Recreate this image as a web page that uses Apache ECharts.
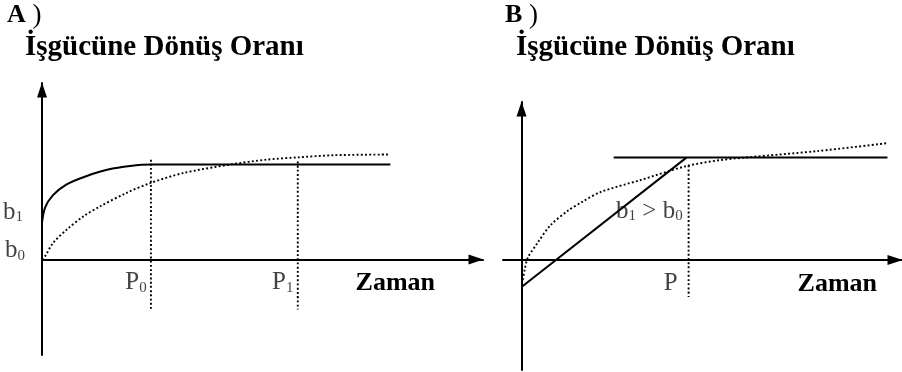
<!DOCTYPE html>
<html>
<head>
<meta charset="utf-8">
<script src="https://cdn.jsdelivr.net/npm/echarts@6/dist/echarts.min.js"></script>
<style>
  html, body { margin: 0; padding: 0; background: #fff; }
  #chart { width: 902px; height: 372px; }
</style>
</head>
<body>
<div id="chart"></div>
<script>
// panel A: solid path jumps to b1 then flattens after P0, dotted path starts at b0
const aSolidX = [0, 0.07, 0.25, 0.55, 1.0, 1.5, 2.0, 2.47, 3.5, 7.9]
const aSolidY = [2.1, 2.95, 3.65, 4.25, 4.72, 5.1, 5.3, 5.38, 5.38, 5.38]
const aDotX = [0, 0.07, 0.25, 0.56, 0.94, 1.32, 1.92, 2.46, 3.2, 4.26, 5.09, 5.81, 6.6, 7.85]
const aDotY = [0, 0.19, 0.94, 1.7, 2.45, 3.02, 3.78, 4.34, 4.9, 5.38, 5.66, 5.79, 5.91, 5.95]
const aMarkX = [2.47, 5.8]
const aMarkTop = [5.65, 5.55]
const aMarkNames = ['P0', 'P1']
const markBottomA = -2.83

// panel B: straight ramp up to P, then flat; dotted curve
const bRampX = [0, 3.74]
const bRampY = [-1.53, 5.8]
const bFlatX = [2.09, 8.3]
const bFlatY = [5.8, 5.8]
const bDotX = [0.01, 0.07, 0.14, 0.36, 0.66, 1.04, 1.41, 1.79, 2.7, 3.74, 4.51, 5.19, 6.71, 8.3]
const bDotY = [-1.36, -0.57, 0.11, 0.96, 1.98, 2.77, 3.34, 3.85, 4.53, 5.32, 5.66, 5.83, 6.17, 6.62]
const bMarkX = 3.79
const bMarkTop = 5.35
const markBottomB = -2.1

const font = '"Liberation Serif", "Times New Roman", serif'
const ink = '#000'
const dotted = { color: ink, width: 1.9, type: [1.9, 2.3], cap: 'butt' }
const solid = { color: ink, width: 2 }

const rich = {
  m: { fontFamily: font, fontSize: 25, color: '#111', verticalAlign: 'bottom' },
  s: { fontFamily: font, fontSize: 15, color: '#111', verticalAlign: 'bottom' }
}

function pairs(xs, ys) {
  return xs.map((x, i) => [x, ys[i]])
}

function lineSeries(idx, data, style) {
  return {
    type: 'line', xAxisIndex: idx, yAxisIndex: idx, data: data,
    showSymbol: false, silent: true, smooth: 0.3,
    lineStyle: style, animation: false
  }
}

function sub(base, s) {
  return '{m|' + base + '}{s|' + s + '}'
}

function xAxis(idx, min, max, gap) {
  return {
    type: 'value', gridIndex: idx, min: min, max: max,
    splitLine: { show: false }, axisTick: { show: false }, axisLabel: { show: false },
    axisLine: {
      onZero: true, symbol: ['none', 'triangle'], symbolSize: [10, 15], symbolOffset: [0, -7],
      lineStyle: { color: ink, width: 2 }
    },
    name: 'Zaman', nameLocation: 'end', nameGap: gap,
    nameTextStyle: {
      fontFamily: font, fontWeight: 'bold', fontSize: 26, color: ink,
      align: 'right', verticalAlign: 'top', padding: [11, 0, 0, 0]
    }
  }
}

function yAxis(idx, min, max) {
  return {
    type: 'value', gridIndex: idx, min: min, max: max,
    splitLine: { show: false }, axisTick: { show: false }, axisLabel: { show: false },
    axisLine: {
      onZero: true, symbol: ['none', 'triangle'], symbolSize: [10, 15], symbolOffset: [0, -7],
      lineStyle: { color: ink, width: 2 }
    }
  }
}

const chart = echarts.init(document.getElementById('chart'))

const headRich = {
  b: { fontFamily: font, fontWeight: 'bold', fontSize: 26, color: ink },
  n: { fontFamily: font, fontWeight: 'normal', fontSize: 27, color: ink }
}
const headStyle = { fontFamily: font, fontWeight: 'bold', fontSize: 29, color: ink }

const series = [
  lineSeries(0, pairs(aSolidX, aSolidY), solid),
  lineSeries(0, pairs(aDotX, aDotY), dotted),
  ...aMarkX.map((x, i) => lineSeries(0, [[x, aMarkTop[i]], [x, markBottomA]], dotted)),
  lineSeries(1, pairs(bRampX, bRampY), solid),
  lineSeries(1, pairs(bFlatX, bFlatY), solid),
  lineSeries(1, pairs(bDotX, bDotY), dotted),
  lineSeries(1, [[bMarkX, bMarkTop], [bMarkX, markBottomB]], dotted),
  {
    type: 'scatter', xAxisIndex: 0, yAxisIndex: 0, symbolSize: 0, silent: true, animation: false,
    label: { show: true, rich: rich },
    data: [
      { value: [0, aSolidY[0]], label: { formatter: sub('b', '1'), position: 'left', distance: 19, offset: [0, -10] } },
      { value: [0, 0], label: { formatter: sub('b', '0'), position: 'left', distance: 17, offset: [0, -9] } },
      ...aMarkX.map((x, i) => ({
        value: [x, 0],
        label: { formatter: sub(aMarkNames[i][0], aMarkNames[i][1]), position: 'inside', offset: [-15, 23] }
      }))
    ]
  },
  {
    type: 'scatter', xAxisIndex: 1, yAxisIndex: 1, symbolSize: 0, silent: true, animation: false,
    label: { show: true, rich: rich },
    data: [
      { value: [2.9, 2.77], label: { formatter: sub('b', '1') + '{m| > }' + sub('b', '0'), position: 'inside' } },
      { value: [bMarkX, 0], label: { formatter: '{m|P}', position: 'inside', offset: [-18, 23] } }
    ]
  }
]

chart.setOption({
  backgroundColor: '#fff',
  animation: false,
  title: [
    { text: '{b|A}{n| )}', left: 7, top: 2, padding: 0, textStyle: { rich: headRich } },
    { text: 'İşgücüne Dönüş Oranı', left: 25, top: 33, padding: 0, textStyle: headStyle },
    { text: '{b|B}{n| )}', left: 505, top: 2, padding: 0, textStyle: { rich: headRich } },
    { text: 'İşgücüne Dönüş Oranı', left: 516, top: 33, padding: 0, textStyle: headStyle }
  ],
  grid: [
    { left: 42, top: 83, width: 441, height: 272, outerBoundsMode: 'none' },
    { left: 503, top: 102, width: 399, height: 268, outerBoundsMode: 'none' }
  ],
  xAxis: [xAxis(0, 0, 10, -48), xAxis(1, -0.42, 8.63, -25)],
  yAxis: [yAxis(0, -5.4, 10), yAxis(1, -6.23, 8.95)],
  series: series
})
</script>
</body>
</html>
